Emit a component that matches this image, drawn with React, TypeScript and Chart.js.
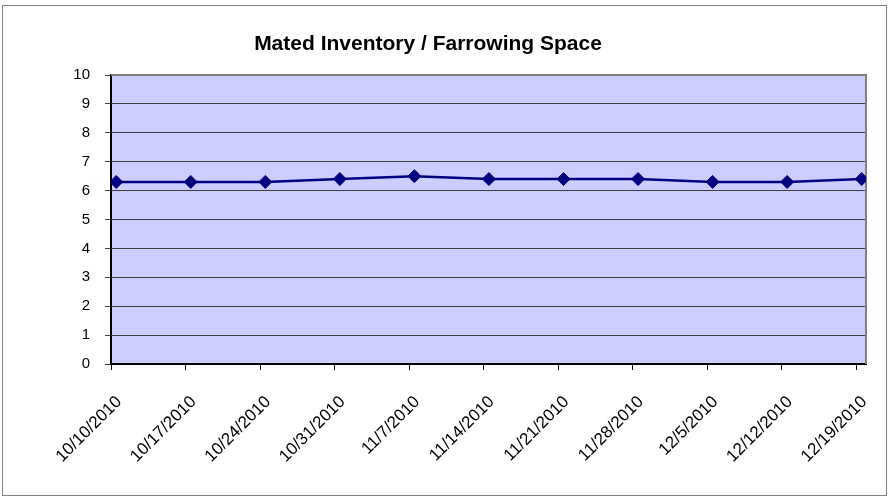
import { useEffect, useRef } from 'react';
import { Chart, registerables } from 'chart.js';

Chart.register(...registerables);

const categories = [
  '10/10/2010', '10/17/2010', '10/24/2010', '10/31/2010', '11/7/2010', '11/14/2010',
  '11/21/2010', '11/28/2010', '12/5/2010', '12/12/2010', '12/19/2010',
];
const values = [6.3, 6.3, 6.3, 6.4, 6.5, 6.4, 6.4, 6.4, 6.3, 6.3, 6.4];
const yMin = 0;
const yMax = 10;
const yStep = 1;
const titleText = 'Mated Inventory / Farrowing Space';

const FONT = "'Liberation Sans', Arial, Helvetica, sans-serif";

export default function App() {
  const ref = useRef<HTMLCanvasElement>(null);

  useEffect(() => {
    document.body.style.margin = '0';
    const canvas = ref.current;
    if (!canvas) return;

    const frame = {
      id: 'frame',
      beforeDraw(chart: any) {
        const { ctx, chartArea: a } = chart;
        ctx.save();
        ctx.fillStyle = '#ffffff';
        ctx.fillRect(0, 0, chart.width, chart.height);
        ctx.strokeStyle = '#808080';
        ctx.lineWidth = 1;
        ctx.strokeRect(2.5, 5.5, 884, 490);
        ctx.fillStyle = '#CCCCFF';
        ctx.fillRect(a.left, a.top, a.right - a.left, a.bottom - a.top);
        ctx.fillStyle = '#000000';
        ctx.font = `bold 21px ${FONT}`;
        ctx.textAlign = 'center';
        ctx.textBaseline = 'alphabetic';
        ctx.fillText(titleText, 428, 50);
        ctx.restore();
      },
      beforeDatasetsDraw(chart: any) {
        const { ctx, chartArea: a } = chart;
        ctx.save();
        ctx.strokeStyle = '#808080';
        ctx.lineWidth = 2;
        ctx.beginPath();
        ctx.moveTo(a.left, a.top);
        ctx.lineTo(a.right, a.top);
        ctx.lineTo(a.right, a.bottom);
        ctx.stroke();
        ctx.restore();
      },
    };

    const chart = new Chart(canvas, {
      type: 'line',
      data: {
        datasets: [
          {
            data: values.map((v, i) => ({ x: i, y: v })),
            borderColor: '#000080',
            backgroundColor: '#000080',
            borderWidth: 2.5,
            pointStyle: 'rectRot',
            pointRadius: 6.5,
            pointBorderWidth: 1,
            pointBackgroundColor: '#000080',
            pointBorderColor: '#000080',
            tension: 0,
            fill: false,
          },
        ],
      },
      options: {
        animation: false,
        responsive: false,
        maintainAspectRatio: false,
        layout: { padding: { top: 75, right: 24, left: 0, bottom: 0 } },
        plugins: {
          legend: { display: false },
          tooltip: { enabled: false },
          title: { display: false },
        },
        scales: {
          x: {
            type: 'linear',
            min: -0.07,
            max: 10.058,
            afterBuildTicks: (s: any) => {
              s.ticks = categories.map((_, i) => ({ value: i - 0.07 }));
            },
            afterFit: (s: any) => {
              s.height = 135;
              s.paddingRight = 0;
              s.paddingLeft = 0;
            },
            ticks: {
              callback: (_v: any, i: number) => categories[i],
              autoSkip: false,
              maxRotation: 45,
              minRotation: 45,
              padding: 22,
              labelOffset: 8,
              color: '#000000',
              font: { family: FONT, size: 17 },
            },
            grid: { drawOnChartArea: false, drawTicks: true, tickLength: 6, color: '#000000' },
            border: { color: '#000000', width: 2 },
          },
          y: {
            min: yMin,
            max: yMax,
            afterFit: (s: any) => {
              s.width = 111;
              s.paddingTop = 0;
              s.paddingBottom = 0;
            },
            ticks: {
              stepSize: yStep,
              padding: 15,
              color: '#000000',
              font: { family: FONT, size: 15 },
            },
            grid: { color: '#404040', tickLength: 6, lineWidth: 1 },
            border: { color: '#000000', width: 2 },
          },
        },
      },
      plugins: [frame],
    });

    return () => chart.destroy();
  }, []);

  return <canvas ref={ref} width={890} height={499} style={{ display: 'block' }} />;
}
